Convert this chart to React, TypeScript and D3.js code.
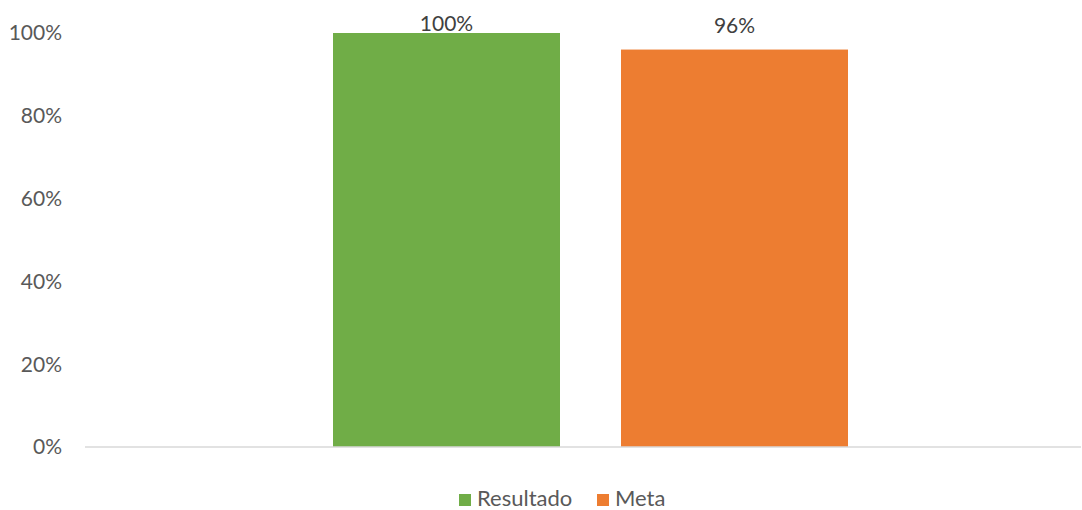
import React from "react";
import * as d3 from "d3";

const seriesNames = ["Resultado", "Meta"];
const seriesValues = [1.0, 0.96];
const seriesColors = ["#70AD47", "#ED7D31"];
const yTicks = [0, 0.2, 0.4, 0.6, 0.8, 1.0];

const W = 1082;
const H = 510;
const FONT = "Lato, 'Open Sans', sans-serif";

export default function App() {
  const y = d3.scaleLinear().domain([0, 1]).range([447, 33]);
  const x = d3
    .scaleBand<string>()
    .domain(seriesNames)
    .range([333, 848])
    .paddingInner(61 / 288)
    .paddingOuter(0);
  const fmt = d3.format(".0%");

  return (
    <svg
      width={W}
      height={H}
      style={{ position: "absolute", left: 0, top: 0, background: "#fff" }}
      fontFamily={FONT}
    >
      {yTicks.map((t) => (
        <text
          key={t}
          x={62}
          y={y(t)}
          dy="0.35em"
          textAnchor="end"
          fontSize={21}
          fill="#595959"
        >
          {fmt(t)}
        </text>
      ))}
      {seriesNames.map((s, i) => (
        <rect
          key={s}
          x={x(s)}
          y={y(seriesValues[i])}
          width={x.bandwidth()}
          height={y(0) - y(seriesValues[i])}
          fill={seriesColors[i]}
        />
      ))}
      <line x1={85} x2={1081} y1={y(0)} y2={y(0)} stroke="#D9D9D9" strokeWidth={1.5} />
      {seriesNames.map((s, i) => (
        <text
          key={s}
          x={(x(s) ?? 0) + x.bandwidth() / 2}
          y={Math.max(y(seriesValues[i]) - 17, 31)}
          textAnchor="middle"
          fontSize={21}
          fill="#404040"
        >
          {fmt(seriesValues[i])}
        </text>
      ))}
      <g>
        <rect x={459} y={494} width={12} height={12} fill={seriesColors[0]} />
        <text x={477} y={506} fontSize={22} fill="#595959">
          {seriesNames[0]}
        </text>
        <rect x={597} y={494} width={12} height={12} fill={seriesColors[1]} />
        <text x={615} y={506} fontSize={22} fill="#595959">
          {seriesNames[1]}
        </text>
      </g>
    </svg>
  );
}
